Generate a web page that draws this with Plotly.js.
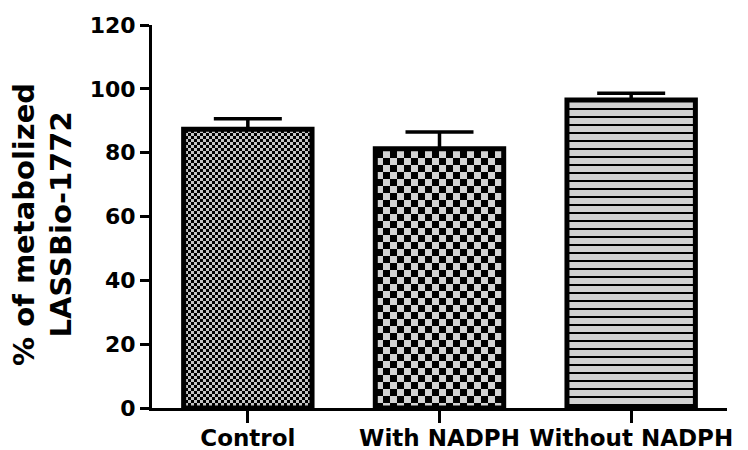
<!DOCTYPE html>
<html>
<head>
<meta charset="utf-8">
<script src="https://cdn.plot.ly/plotly-3.0.1.min.js"></script>
<style>
  html, body { margin: 0; padding: 0; background: #ffffff; }
  #chart { width: 748px; height: 450px; }
</style>
</head>
<body>
<div id="chart"></div>
<script>
// Metabolism of LASSBio-1772 under three incubation conditions
const categories = ['Control', 'With NADPH', 'Without NADPH'];
const metabolized = [87.3, 81.2, 96.5];      // mean % metabolized
const errorUp = [3.3, 5.3, 2.1];             // upper error (SEM)
const errorDown = [0, 0, 0];
const yTickValues = [0, 20, 40, 60, 80, 100, 120];
const yTitle = '% of metabolized<br>LASSBio-1772';

// Fill patterns: fine checkerboard, coarse checkerboard, horizontal stripes
const patterns = [
  { path: 'M0,0H3V3H0ZM3,3H6V6H3Z', size: 6, bgcolor: '#c4c4c4', fgcolor: '#000000', fgopacity: 1, solidity: 0.5 },
  { path: 'M0,0H7V7H0ZM7,7H14V14H7Z', size: 14, bgcolor: '#d2d2d2', fgcolor: '#000000', fgopacity: 1, solidity: 0.5 },
  { shape: '-', size: 8, solidity: 0.25, bgcolor: '#d2d2d2', fgcolor: '#000000', fgopacity: 1 }
];

const traces = categories.map((c, i) => ({
  type: 'bar',
  x: [c],
  y: [metabolized[i]],
  width: 0.67,
  marker: {
    color: '#d2d2d2',
    line: { color: '#000000', width: 5 },
    pattern: patterns[i]
  },
  error_y: {
    type: 'data',
    symmetric: false,
    array: [errorUp[i]],
    arrayminus: [errorDown[i]],
    color: '#000000',
    thickness: 3.5,
    width: 34
  },
  showlegend: false,
  hoverinfo: 'skip'
}));

const layout = {
  width: 748,
  height: 450,
  margin: { l: 152, r: 21, t: 25, b: 42 },
  paper_bgcolor: '#ffffff',
  plot_bgcolor: '#ffffff',
  showlegend: false,
  font: { family: 'DejaVu Sans', color: '#000000' },
  xaxis: {
    type: 'category',
    categoryorder: 'array',
    categoryarray: categories,
    range: [-0.5, 2.5],
    showline: true,
    linecolor: '#000000',
    linewidth: 3,
    ticks: 'outside',
    ticklen: 12,
    tickwidth: 3,
    tickcolor: '#000000',
    tickangle: 0,
    ticklabelstandoff: -5,
    showgrid: false,
    zeroline: false,
    tickfont: { family: 'DejaVu Sans', size: 23, color: '#000000', weight: 'bold' }
  },
  yaxis: {
    range: [0, 120],
    tickvals: yTickValues,
    ticktext: yTickValues.map(String),
    showline: true,
    linecolor: '#000000',
    linewidth: 3,
    ticks: 'outside',
    ticklen: 9,
    tickwidth: 3,
    tickcolor: '#000000',
    showgrid: false,
    zeroline: false,
    tickfont: { family: 'DejaVu Sans', size: 22, color: '#000000', weight: 'bold' }
  },
  annotations: [{
    text: yTitle,
    textangle: -90,
    xref: 'paper', yref: 'paper',
    x: -0.19, y: 0.48,
    xanchor: 'center', yanchor: 'middle',
    showarrow: false,
    align: 'center',
    font: { family: 'DejaVu Sans', size: 29, color: '#000000', weight: 'bold' }
  }]
};

Plotly.newPlot('chart', traces, layout, { staticPlot: true, displayModeBar: false });
</script>
</body>
</html>
